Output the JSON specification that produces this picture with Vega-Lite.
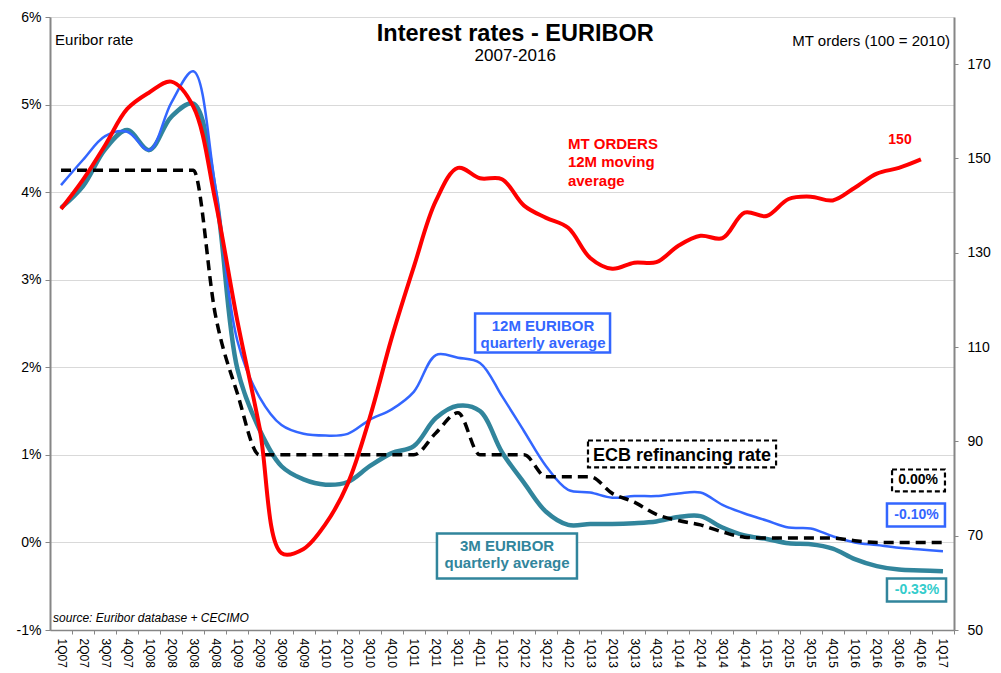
{
  "$schema": "https://vega.github.io/schema/vega-lite/v6.json",
  "width": 904,
  "height": 613,
  "autosize": "none",
  "padding": {"left": 50, "top": 17, "right": 47, "bottom": 43},
  "background": "white",
  "config": {"view": {"stroke": null}, "font": "Liberation Sans", "text": {"font": "Liberation Sans"}},
  "datasets": {
    "quarters": [
      {"i": 0, "q": "1Q07", "m12": 4.08, "m3": 3.82, "ecb": 4.25, "orders": 139.3},
      {"i": 1, "q": "2Q07", "m12": 4.37, "m3": 4.07, "ecb": 4.25, "orders": 145.5},
      {"i": 2, "q": "3Q07", "m12": 4.64, "m3": 4.49, "ecb": 4.25, "orders": 152.8},
      {"i": 3, "q": "4Q07", "m12": 4.69, "m3": 4.71, "ecb": 4.25, "orders": 160.5},
      {"i": 4, "q": "1Q08", "m12": 4.48, "m3": 4.48, "ecb": 4.25, "orders": 164.0},
      {"i": 5, "q": "2Q08", "m12": 5.02, "m3": 4.86, "ecb": 4.25, "orders": 166.3},
      {"i": 6, "q": "3Q08", "m12": 5.38, "m3": 5.01, "ecb": 4.25, "orders": 161.0},
      {"i": 7, "q": "4Q08", "m12": 4.06, "m3": 4.0, "ecb": 2.6, "orders": 141.0},
      {"i": 8, "q": "1Q09", "m12": 2.3, "m3": 1.98, "ecb": 1.7, "orders": 115.5},
      {"i": 9, "q": "2Q09", "m12": 1.66, "m3": 1.29, "ecb": 1.0, "orders": 93.0},
      {"i": 10, "q": "3Q09", "m12": 1.34, "m3": 0.87, "ecb": 1.0, "orders": 66.3},
      {"i": 11, "q": "4Q09", "m12": 1.24, "m3": 0.72, "ecb": 1.0, "orders": 67.2},
      {"i": 12, "q": "1Q10", "m12": 1.22, "m3": 0.66, "ecb": 1.0, "orders": 72.5},
      {"i": 13, "q": "2Q10", "m12": 1.24, "m3": 0.69, "ecb": 1.0, "orders": 81.0},
      {"i": 14, "q": "3Q10", "m12": 1.4, "m3": 0.87, "ecb": 1.0, "orders": 95.0},
      {"i": 15, "q": "4Q10", "m12": 1.52, "m3": 1.02, "ecb": 1.0, "orders": 112.0},
      {"i": 16, "q": "1Q11", "m12": 1.72, "m3": 1.1, "ecb": 1.0, "orders": 127.0},
      {"i": 17, "q": "2Q11", "m12": 2.14, "m3": 1.42, "ecb": 1.25, "orders": 141.0},
      {"i": 18, "q": "3Q11", "m12": 2.11, "m3": 1.56, "ecb": 1.48, "orders": 148.0},
      {"i": 19, "q": "4Q11", "m12": 2.05, "m3": 1.5, "ecb": 1.0, "orders": 145.8},
      {"i": 20, "q": "1Q12", "m12": 1.67, "m3": 1.03, "ecb": 1.0, "orders": 145.6},
      {"i": 21, "q": "2Q12", "m12": 1.27, "m3": 0.68, "ecb": 1.0, "orders": 140.0},
      {"i": 22, "q": "3Q12", "m12": 0.87, "m3": 0.35, "ecb": 0.75, "orders": 137.4},
      {"i": 23, "q": "4Q12", "m12": 0.6, "m3": 0.2, "ecb": 0.75, "orders": 135.3},
      {"i": 24, "q": "1Q13", "m12": 0.57, "m3": 0.21, "ecb": 0.75, "orders": 128.9},
      {"i": 25, "q": "2Q13", "m12": 0.51, "m3": 0.21, "ecb": 0.56, "orders": 126.6},
      {"i": 26, "q": "3Q13", "m12": 0.53, "m3": 0.22, "ecb": 0.46, "orders": 127.9},
      {"i": 27, "q": "4Q13", "m12": 0.53, "m3": 0.24, "ecb": 0.32, "orders": 128.0},
      {"i": 28, "q": "1Q14", "m12": 0.56, "m3": 0.29, "ecb": 0.25, "orders": 131.5},
      {"i": 29, "q": "2Q14", "m12": 0.57, "m3": 0.3, "ecb": 0.2, "orders": 133.6},
      {"i": 30, "q": "3Q14", "m12": 0.43, "m3": 0.17, "ecb": 0.12, "orders": 133.1},
      {"i": 31, "q": "4Q14", "m12": 0.33, "m3": 0.08, "ecb": 0.06, "orders": 138.5},
      {"i": 32, "q": "1Q15", "m12": 0.25, "m3": 0.04, "ecb": 0.05, "orders": 137.8},
      {"i": 33, "q": "2Q15", "m12": 0.17, "m3": -0.01, "ecb": 0.05, "orders": 141.4},
      {"i": 34, "q": "3Q15", "m12": 0.16, "m3": -0.02, "ecb": 0.05, "orders": 141.9},
      {"i": 35, "q": "4Q15", "m12": 0.07, "m3": -0.07, "ecb": 0.05, "orders": 141.1},
      {"i": 36, "q": "1Q16", "m12": 0.0, "m3": -0.19, "ecb": 0.02, "orders": 143.8},
      {"i": 37, "q": "2Q16", "m12": -0.03, "m3": -0.27, "ecb": 0.0, "orders": 146.8},
      {"i": 38, "q": "3Q16", "m12": -0.06, "m3": -0.31, "ecb": 0.0, "orders": 148.0},
      {"i": 39, "q": "4Q16", "m12": -0.08, "m3": -0.32, "ecb": 0.0, "orders": 149.8},
      {"i": 40, "q": "1Q17", "m12": -0.1, "m3": -0.33, "ecb": 0.0}
    ]
  },
  "data": {"name": "quarters"},
  "encoding": {
    "x": {
      "field": "i",
      "type": "quantitative",
      "scale": {"domain": [-0.5, 40.5], "nice": false, "zero": false},
      "axis": {
        "title": null,
        "values": [0,1,2,3,4,5,6,7,8,9,10,11,12,13,14,15,16,17,18,19,20,21,22,23,24,25,26,27,28,29,30,31,32,33,34,35,36,37,38,39,40],
        "labelExpr": "['1Q07','2Q07','3Q07','4Q07','1Q08','2Q08','3Q08','4Q08','1Q09','2Q09','3Q09','4Q09','1Q10','2Q10','3Q10','4Q10','1Q11','2Q11','3Q11','4Q11','1Q12','2Q12','3Q12','4Q12','1Q13','2Q13','3Q13','4Q13','1Q14','2Q14','3Q14','4Q14','1Q15','2Q15','3Q15','4Q15','1Q16','2Q16','3Q16','4Q16','1Q17'][datum.value]",
        "labelAngle": 90,
        "labelAlign": "left",
        "labelBaseline": "middle",
        "labelFontSize": 12,
        "labelColor": "#000000",
        "labelPadding": 4,
        "labelOffset": -11,
        "labelFlush": false,
        "labelOverlap": false,
        "labelBound": false,
        "grid": false,
        "domainColor": "#868686",
        "domainWidth": 1.5,
        "tickColor": "#868686",
        "tickSize": 4,
        "tickOffset": 11
      }
    }
  },
  "layer": [
    {
      "encoding": {
        "y": {
          "field": "rate",
          "type": "quantitative",
          "scale": {"domain": [-1, 6], "nice": false, "zero": false},
          "axis": {
            "title": null,
            "values": [-1, 0, 1, 2, 3, 4, 5, 6],
            "labelExpr": "datum.value + '%'",
            "labelFontSize": 14,
            "labelColor": "#000000",
            "labelPadding": 4,
            "labelFlush": false,
            "grid": true,
            "gridColor": "#d9d9d9",
            "gridWidth": 1,
            "domainColor": "#868686",
            "domainWidth": 2,
            "tickColor": "#868686",
            "tickSize": 5
          }
        }
      },
      "layer": [
        {
          "transform": [{"fold": ["m3"], "as": ["series", "rate"]}],
          "mark": {"type": "line", "color": "#31859C", "strokeWidth": 4.5, "interpolate": "catmull-rom"}
        },
        {
          "transform": [{"fold": ["m12"], "as": ["series", "rate"]}],
          "mark": {"type": "line", "color": "#3366FF", "strokeWidth": 2.5, "interpolate": "catmull-rom"}
        },
        {
          "transform": [{"fold": ["ecb"], "as": ["series", "rate"]}],
          "mark": {"type": "line", "color": "#000000", "strokeWidth": 3.5, "strokeDash": [10, 6], "interpolate": "monotone"}
        },
        {
          "data": {"values": [
            {"label": "12M", "i": 18.78, "i2": 24.9, "rate": 2.614, "rate2": 2.169},
            {"label": "-0.10%", "i": 37.46, "i2": 40.09, "rate": 0.445, "rate2": 0.182}
          ]},
          "mark": {"type": "rect", "fill": "white", "stroke": "#3366FF", "strokeWidth": 2.5},
          "encoding": {"x2": {"field": "i2"}, "y2": {"field": "rate2"}}
        },
        {
          "data": {"values": [
            {"label": "3M", "i": 17.05, "i2": 23.4, "rate": 0.103, "rate2": -0.411},
            {"label": "-0.33%", "i": 37.46, "i2": 40.14, "rate": -0.411, "rate2": -0.674}
          ]},
          "mark": {"type": "rect", "fill": "white", "stroke": "#31859C", "strokeWidth": 2.5},
          "encoding": {"x2": {"field": "i2"}, "y2": {"field": "rate2"}}
        },
        {
          "data": {"values": [
            {"label": "ECB", "i": 23.9, "i2": 32.43, "rate": 1.164, "rate2": 0.856},
            {"label": "0.00%", "i": 37.69, "i2": 40.09, "rate": 0.833, "rate2": 0.582}
          ]},
          "mark": {"type": "rect", "fill": "white", "stroke": "#000000", "strokeWidth": 2.2, "strokeDash": [5, 3]},
          "encoding": {"x2": {"field": "i2"}, "y2": {"field": "rate2"}}
        },
        {
          "data": {"values": [{"label": "Interest rates - EURIBOR", "i": 20.6, "rate": 5.81}]},
          "mark": {"type": "text", "fontSize": 23.5, "fontWeight": "bold", "align": "center", "baseline": "middle", "color": "#000000"},
          "encoding": {"text": {"field": "label"}}
        },
        {
          "data": {"values": [{"label": "2007-2016", "i": 20.6, "rate": 5.55}]},
          "mark": {"type": "text", "fontSize": 17, "align": "center", "baseline": "middle", "color": "#000000"},
          "encoding": {"text": {"field": "label"}}
        },
        {
          "data": {"values": [{"label": "Euribor rate", "i": -0.27, "rate": 5.74}]},
          "mark": {"type": "text", "fontSize": 15, "align": "left", "baseline": "middle", "color": "#000000"},
          "encoding": {"text": {"field": "label"}}
        },
        {
          "data": {"values": [{"label": "MT orders (100 = 2010)", "i": 40.32, "rate": 5.73}]},
          "mark": {"type": "text", "fontSize": 15, "align": "right", "baseline": "middle", "color": "#000000"},
          "encoding": {"text": {"field": "label"}}
        },
        {
          "data": {"values": [{"label": "MT ORDERS\n12M moving\naverage", "i": 22.99, "rate": 4.555}]},
          "mark": {"type": "text", "fontSize": 15, "fontWeight": "bold", "align": "left", "baseline": "middle", "color": "#FF0000", "lineBreak": "\n", "lineHeight": 18.5},
          "encoding": {"text": {"field": "label"}}
        },
        {
          "data": {"values": [{"label": "12M EURIBOR\nquarterly average", "i": 21.86, "rate": 2.477}]},
          "mark": {"type": "text", "fontSize": 15, "fontWeight": "bold", "align": "center", "baseline": "middle", "color": "#3366FF", "lineBreak": "\n", "lineHeight": 17},
          "encoding": {"text": {"field": "label"}}
        },
        {
          "data": {"values": [{"label": "3M EURIBOR\nquarterly average", "i": 20.23, "rate": -0.046}]},
          "mark": {"type": "text", "fontSize": 15, "fontWeight": "bold", "align": "center", "baseline": "middle", "color": "#31859C", "lineBreak": "\n", "lineHeight": 17},
          "encoding": {"text": {"field": "label"}}
        },
        {
          "data": {"values": [{"label": "ECB refinancing rate", "i": 28.16, "rate": 0.99}]},
          "mark": {"type": "text", "fontSize": 18, "fontWeight": "bold", "align": "center", "baseline": "middle", "color": "#000000"},
          "encoding": {"text": {"field": "label"}}
        },
        {
          "data": {"values": [{"label": "0.00%", "i": 38.87, "rate": 0.708}]},
          "mark": {"type": "text", "fontSize": 14, "fontWeight": "bold", "align": "center", "baseline": "middle", "color": "#000000"},
          "encoding": {"text": {"field": "label"}}
        },
        {
          "data": {"values": [{"label": "-0.10%", "i": 38.8, "rate": 0.308}]},
          "mark": {"type": "text", "fontSize": 14, "fontWeight": "bold", "align": "center", "baseline": "middle", "color": "#3366FF"},
          "encoding": {"text": {"field": "label"}}
        },
        {
          "data": {"values": [{"label": "-0.33%", "i": 38.82, "rate": -0.542}]},
          "mark": {"type": "text", "fontSize": 14, "fontWeight": "bold", "align": "center", "baseline": "middle", "color": "#33CCCC"},
          "encoding": {"text": {"field": "label"}}
        },
        {
          "data": {"values": [{"label": "source:  Euribor database +  CECIMO", "i": -0.36, "rate": -0.868}]},
          "mark": {"type": "text", "fontSize": 12, "fontStyle": "italic", "align": "left", "baseline": "middle", "color": "#000000"},
          "encoding": {"text": {"field": "label"}}
        }
      ]
    },
    {
      "encoding": {
        "y": {
          "field": "orders",
          "type": "quantitative",
          "scale": {"domain": [50, 180], "nice": false, "zero": false},
          "axis": {
            "orient": "right",
            "title": null,
            "values": [50, 70, 90, 110, 130, 150, 170],
            "labelFontSize": 14,
            "labelColor": "#000000",
            "labelPadding": 9,
            "labelFlush": false,
            "grid": false,
            "domainColor": "#868686",
            "domainWidth": 2,
            "tickColor": "#868686",
            "tickSize": 4
          }
        }
      },
      "layer": [
        {
          "transform": [{"filter": "isValid(datum.orders)"}],
          "mark": {"type": "line", "color": "#FF0000", "strokeWidth": 4, "interpolate": "catmull-rom"}
        },
        {
          "data": {"values": [{"label": "150", "i": 38.05, "orders": 153.9}]},
          "mark": {"type": "text", "fontSize": 14, "fontWeight": "bold", "align": "center", "baseline": "middle", "color": "#FF0000"},
          "encoding": {"text": {"field": "label"}}
        }
      ]
    }
  ],
  "resolve": {"scale": {"y": "independent"}}
}
